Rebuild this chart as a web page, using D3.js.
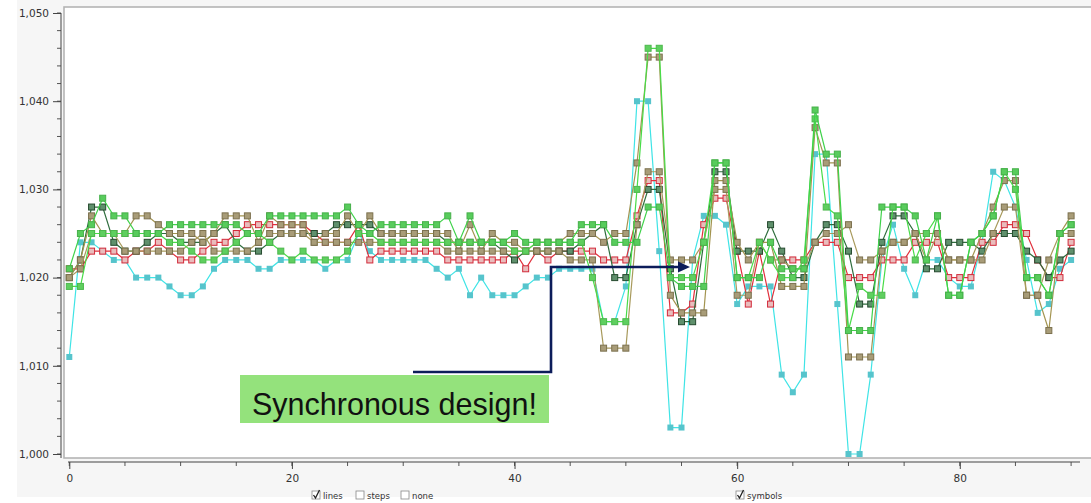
<!DOCTYPE html>
<html>
<head>
<meta charset="utf-8">
<script src="https://cdn.jsdelivr.net/npm/d3@7"></script>
<style>
  html, body { margin: 0; padding: 0; background: #ffffff; }
  svg { display: block; }
</style>
</head>
<body>
<svg id="chart" width="1091" height="503"></svg>
<script>
// Sample index 0..90, one reading per series per sample
const xTicksMajor = [0, 20, 40, 60, 80];
const yTicksMajor = [1.000, 1.010, 1.020, 1.030, 1.040, 1.050];
const yTickLabels = ["1,000", "1,010", "1,020", "1,030", "1,040", "1,050"];

const cyanSeries = [
  1.011, 1.024, 1.024, 1.023, 1.022, 1.022, 1.020, 1.020, 1.020, 1.019,
  1.018, 1.018, 1.019, 1.021, 1.022, 1.022, 1.022, 1.021, 1.021, 1.022,
  1.022, 1.022, 1.022, 1.021, 1.022, 1.022, 1.025, 1.023, 1.022, 1.022,
  1.022, 1.022, 1.022, 1.021, 1.020, 1.021, 1.018, 1.020, 1.018, 1.018,
  1.018, 1.019, 1.020, 1.020, 1.021, 1.021, 1.021, 1.021, 1.015, 1.015,
  1.019, 1.040, 1.040, 1.023, 1.003, 1.003, 1.022, 1.027, 1.027, 1.026,
  1.017, 1.019, 1.019, 1.019, 1.009, 1.007, 1.009, 1.034, 1.034, 1.017,
  1.000, 1.000, 1.009, 1.022, 1.026, 1.021, 1.018, 1.022, 1.022, 1.020,
  1.019, 1.019, 1.024, 1.032, 1.031, 1.028, 1.022, 1.016, 1.017, 1.021,
  1.022
];
const redSeries = [
  1.021, 1.021, 1.023, 1.023, 1.023, 1.022, 1.023, 1.023, 1.024, 1.023,
  1.022, 1.022, 1.023, 1.024, 1.024, 1.025, 1.026, 1.026, 1.026, 1.026,
  1.026, 1.026, 1.025, 1.024, 1.024, 1.024, 1.026, 1.022, 1.023, 1.023,
  1.023, 1.023, 1.023, 1.023, 1.022, 1.022, 1.022, 1.022, 1.022, 1.022,
  1.023, 1.021, 1.023, 1.022, 1.023, 1.023, 1.023, 1.023, 1.022, 1.022,
  1.022, 1.027, 1.031, 1.031, 1.016, 1.016, 1.017, 1.026, 1.029, 1.029,
  1.023, 1.017, 1.023, 1.017, 1.022, 1.022, 1.022, 1.024, 1.024, 1.024,
  1.020, 1.020, 1.020, 1.022, 1.022, 1.022, 1.024, 1.024, 1.024, 1.020,
  1.020, 1.020, 1.024, 1.024, 1.026, 1.026, 1.025, 1.022, 1.020, 1.020,
  1.024
];
const darkGreenSeries = [
  1.020, 1.022, 1.028, 1.028, 1.024, 1.023, 1.023, 1.024, 1.025, 1.025,
  1.024, 1.024, 1.024, 1.025, 1.026, 1.024, 1.023, 1.023, 1.024, 1.025,
  1.025, 1.025, 1.025, 1.025, 1.026, 1.026, 1.026, 1.026, 1.025, 1.025,
  1.025, 1.025, 1.025, 1.025, 1.024, 1.024, 1.024, 1.024, 1.024, 1.023,
  1.022, 1.023, 1.023, 1.023, 1.023, 1.023, 1.024, 1.025, 1.026, 1.020,
  1.020, 1.026, 1.030, 1.030, 1.021, 1.015, 1.015, 1.024, 1.032, 1.032,
  1.023, 1.023, 1.023, 1.026, 1.023, 1.020, 1.020, 1.024, 1.026, 1.026,
  1.023, 1.017, 1.017, 1.024, 1.027, 1.027, 1.025, 1.021, 1.021, 1.024,
  1.024, 1.024, 1.023, 1.025, 1.025, 1.025, 1.023, 1.022, 1.020, 1.022,
  1.023
];
const tanUpperSeries = [
  1.020, 1.022, 1.027, 1.025, 1.025, 1.025, 1.027, 1.027, 1.026, 1.025,
  1.025, 1.025, 1.024, 1.025, 1.027, 1.027, 1.027, 1.024, 1.027, 1.026,
  1.026, 1.026, 1.024, 1.025, 1.025, 1.027, 1.025, 1.027, 1.025, 1.025,
  1.025, 1.025, 1.025, 1.025, 1.025, 1.023, 1.026, 1.023, 1.025, 1.024,
  1.024, 1.023, 1.024, 1.024, 1.024, 1.025, 1.025, 1.025, 1.024, 1.025,
  1.025, 1.033, 1.045, 1.045, 1.018, 1.016, 1.016, 1.016, 1.031, 1.031,
  1.024, 1.022, 1.024, 1.024, 1.019, 1.019, 1.019, 1.037, 1.033, 1.033,
  1.011, 1.011, 1.011, 1.023, 1.024, 1.024, 1.025, 1.025, 1.025, 1.022,
  1.022, 1.022, 1.025, 1.028, 1.031, 1.031, 1.018, 1.018, 1.014, 1.025,
  1.027
];
const tanLowerSeries = [
  1.020, 1.021, 1.025, 1.025, 1.025, 1.023, 1.023, 1.023, 1.023, 1.023,
  1.023, 1.024, 1.025, 1.023, 1.023, 1.023, 1.023, 1.024, 1.025, 1.025,
  1.025, 1.025, 1.024, 1.024, 1.024, 1.024, 1.024, 1.024, 1.024, 1.024,
  1.024, 1.024, 1.024, 1.024, 1.023, 1.023, 1.023, 1.023, 1.023, 1.023,
  1.023, 1.023, 1.023, 1.023, 1.023, 1.022, 1.022, 1.022, 1.012, 1.012,
  1.012, 1.026, 1.032, 1.032, 1.022, 1.022, 1.022, 1.024, 1.030, 1.030,
  1.018, 1.018, 1.024, 1.022, 1.022, 1.021, 1.021, 1.024, 1.025, 1.025,
  1.026, 1.022, 1.022, 1.023, 1.024, 1.024, 1.025, 1.022, 1.025, 1.022,
  1.022, 1.022, 1.022, 1.025, 1.028, 1.028, 1.018, 1.018, 1.022, 1.025,
  1.025
];
const greenUpperSeries = [
  1.021, 1.025, 1.026, 1.029, 1.027, 1.027, 1.025, 1.025, 1.025, 1.026,
  1.026, 1.026, 1.026, 1.026, 1.026, 1.026, 1.025, 1.025, 1.027, 1.027,
  1.027, 1.027, 1.027, 1.027, 1.027, 1.028, 1.026, 1.025, 1.026, 1.026,
  1.026, 1.026, 1.026, 1.026, 1.027, 1.024, 1.027, 1.024, 1.024, 1.024,
  1.025, 1.024, 1.024, 1.024, 1.024, 1.024, 1.026, 1.026, 1.026, 1.024,
  1.024, 1.024, 1.028, 1.028, 1.020, 1.019, 1.019, 1.019, 1.033, 1.033,
  1.020, 1.020, 1.020, 1.024, 1.021, 1.021, 1.021, 1.039, 1.034, 1.034,
  1.014, 1.014, 1.014, 1.028, 1.028, 1.028, 1.027, 1.022, 1.027, 1.018,
  1.018, 1.024, 1.025, 1.027, 1.032, 1.032, 1.020, 1.020, 1.018, 1.025,
  1.026
];
const greenLowerSeries = [
  1.019, 1.019, 1.025, 1.025, 1.025, 1.025, 1.025, 1.025, 1.025, 1.024,
  1.024, 1.023, 1.022, 1.022, 1.023, 1.024, 1.025, 1.025, 1.024, 1.023,
  1.022, 1.023, 1.022, 1.022, 1.022, 1.023, 1.025, 1.025, 1.024, 1.024,
  1.024, 1.024, 1.024, 1.024, 1.024, 1.024, 1.024, 1.024, 1.024, 1.024,
  1.023, 1.023, 1.024, 1.024, 1.024, 1.024, 1.024, 1.020, 1.015, 1.015,
  1.015, 1.030, 1.046, 1.046, 1.020, 1.020, 1.020, 1.024, 1.033, 1.033,
  1.020, 1.020, 1.024, 1.022, 1.020, 1.020, 1.022, 1.038, 1.028, 1.027,
  1.014, 1.019, 1.018, 1.018, 1.028, 1.028, 1.022, 1.025, 1.027, 1.018,
  1.018, 1.024, 1.025, 1.027, 1.032, 1.030, 1.020, 1.020, 1.018, 1.025,
  1.026
];

// Drawing styles per series (line colour, marker fill, marker outline)
const seriesList = [
  { values: cyanSeries,       line: "#3fe4e6", fill: "#56c4cc", stroke: "none" },
  { values: redSeries,        line: "#e0303c", fill: "#e9bcbc", stroke: "#d22a3a" },
  { values: darkGreenSeries,  line: "#2f6d3d", fill: "#5f906c", stroke: "#264a2f" },
  { values: tanUpperSeries,   line: "#a39450", fill: "#a89c78", stroke: "#7c714e" },
  { values: tanLowerSeries,   line: "#a89a5c", fill: "#a89c78", stroke: "#7c714e" },
  { values: greenLowerSeries, line: "#48dc48", fill: "#5fcf5f", stroke: "#4cb84c" },
  { values: greenUpperSeries, line: "#3fd24a", fill: "#58cc5c", stroke: "#46b04a" }
];

const svg = d3.select("#chart");

// Widget background and plot frame
svg.append("rect").attr("x", 17).attr("y", 0).attr("width", 1074).attr("height", 497)
  .attr("fill", "#f6f6f6");
svg.append("rect").attr("x", 64).attr("y", 7).attr("width", 1030).attr("height", 451)
  .attr("fill", "#ffffff").attr("stroke", "#b4b4b4").attr("stroke-width", 1.6);

const x = d3.scaleLinear().domain([0, 90.8]).range([69.3, 1080]);
const y = d3.scaleLinear().domain([1.000, 1.050]).range([454, 13]);

// Y axis: major ticks with labels, minor ticks every 0.002
const yAxisG = svg.append("g").attr("transform", "translate(61,0)");
const yMinor = d3.range(0, 26).map(k => 1.000 + k * 0.002);
yAxisG.selectAll("line.minor").data(yMinor).join("line")
  .attr("x1", -4).attr("x2", 0).attr("y1", d => y(d)).attr("y2", d => y(d))
  .attr("stroke", "#555").attr("stroke-width", 1);
yAxisG.call(d3.axisLeft(y).tickValues(yTicksMajor).tickSize(8).tickSizeOuter(0)
  .tickFormat((d, i) => yTickLabels[i]));
yAxisG.select(".domain").attr("d", `M0,${y(1.050)}V458`).attr("stroke", "#444");
yAxisG.selectAll(".tick line").attr("stroke", "#444");
yAxisG.selectAll(".tick text").attr("x", -12)
  .style("font-family", "DejaVu Sans, sans-serif").style("font-size", "10.5px").attr("fill", "#333");

// X axis: labelled every 20, minor ticks every 5
const xAxisG = svg.append("g").attr("transform", "translate(0,462)");
const xMinor = d3.range(0, 19).map(k => k * 5);
xAxisG.selectAll("line.minor").data(xMinor).join("line")
  .attr("x1", d => x(d)).attr("x2", d => x(d)).attr("y1", 0).attr("y2", 4)
  .attr("stroke", "#555");
xAxisG.call(d3.axisBottom(x).tickValues(xTicksMajor).tickSize(7).tickSizeOuter(0)
  .tickFormat(d3.format("d")));
xAxisG.select(".domain").attr("d", "M68,0H1080").attr("stroke", "#444");
xAxisG.selectAll(".tick line").attr("stroke", "#444");
xAxisG.selectAll(".tick text").attr("y", 13)
  .style("font-family", "DejaVu Sans, sans-serif").style("font-size", "10.5px").attr("fill", "#333");

// Series: polyline then square markers
const lineGen = d3.line().x((d, i) => x(i)).y(d => y(d));
const plot = svg.append("g");
seriesList.forEach(s => {
  const g = plot.append("g");
  g.append("path").datum(s.values).attr("d", lineGen)
    .attr("fill", "none").attr("stroke", s.line).attr("stroke-width", 1.2);
  g.selectAll("rect").data(s.values).join("rect")
    .attr("x", (d, i) => x(i) - 3).attr("y", d => y(d) - 3)
    .attr("width", 6).attr("height", 6)
    .attr("fill", s.fill)
    .attr("stroke", s.stroke).attr("stroke-width", s.stroke === "none" ? 0 : 1);
});

// Annotation: arrow into the synchronised region and the callout box
svg.append("path").attr("d", "M413,372H551V267H680")
  .attr("fill", "none").attr("stroke", "#0c1c5a").attr("stroke-width", 2.6);
svg.append("path").attr("d", "M690,267L678,261.5L678,272.5Z").attr("fill", "#0c1c5a");
svg.append("rect").attr("x", 240).attr("y", 375).attr("width", 309).attr("height", 48)
  .attr("fill", "#94e27c");
svg.append("text").attr("x", 252).attr("y", 415).text("Synchronous design!")
  .style("font-family", "Liberation Sans, Arial, sans-serif").style("font-size", "30.5px")
  .attr("fill", "#111");

// Renderer option toggles under the axis
const opts = [
  { x: 312, label: "lines", checked: true },
  { x: 356, label: "steps", checked: false },
  { x: 401, label: "none", checked: false },
  { x: 736, label: "symbols", checked: true }
];
const og = svg.append("g");
opts.forEach(o => {
  og.append("rect").attr("x", o.x).attr("y", 491).attr("width", 8).attr("height", 8)
    .attr("fill", "#fff").attr("stroke", "#888").attr("stroke-width", 0.8);
  if (o.checked) {
    og.append("path").attr("d", `M${o.x + 1.5},${495}L${o.x + 3.5},${498}L${o.x + 7.5},${490}`)
      .attr("fill", "none").attr("stroke", "#222").attr("stroke-width", 1.3);
  }
  og.append("text").attr("x", o.x + 11).attr("y", 499).text(o.label)
    .style("font-family", "DejaVu Sans, sans-serif").style("font-size", "8.5px").attr("fill", "#333");
});
</script>
</body>
</html>
